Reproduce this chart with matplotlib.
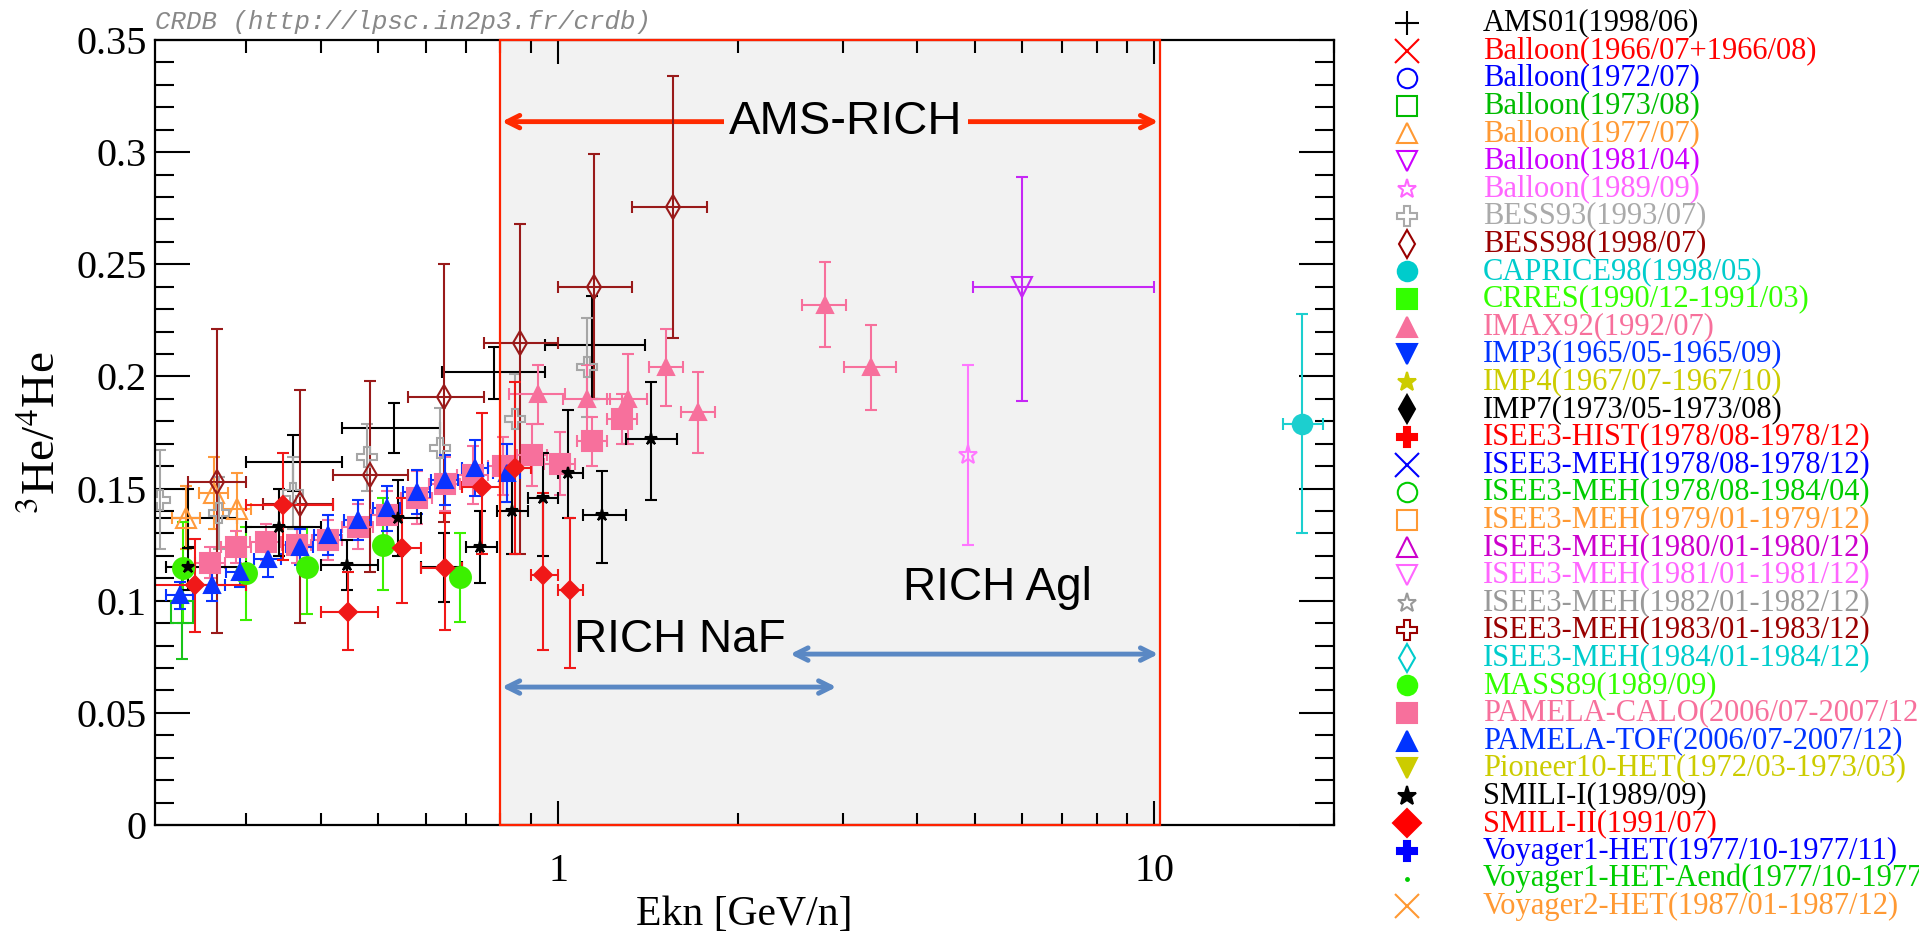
import numpy as np
import matplotlib
matplotlib.use("Agg")
import matplotlib.pyplot as plt
from matplotlib.patches import Rectangle
from matplotlib.ticker import MultipleLocator, LogLocator, FuncFormatter, NullFormatter

plt.rcParams['font.family'] = ['Liberation Serif', 'DejaVu Serif']
plt.rcParams['mathtext.fontset'] = 'stix'

# ---- data: Ekn [GeV/n] vs 3He/4He ----
# AMS01 (no marker, big bins)
ams_e = [0.24, 0.36, 0.53, 0.78, 1.14]
ams_r = [0.137, 0.162, 0.177, 0.202, 0.214]
ams_lo = [0.124, 0.149, 0.166, 0.190, 0.190]
ams_hi = [0.150, 0.174, 0.188, 0.213, 0.236]
ams_elo = [0.21, 0.30, 0.435, 0.64, 0.95]
ams_ehi = [0.29, 0.435, 0.634, 0.95, 1.40]

# Balloon(1973/08)
b73_e = [0.234]
b73_r = [0.095]
b73_lo = [0.074]
b73_hi = [0.116]

# Balloon(1977/07)
b77_e = [0.238, 0.265, 0.29]
b77_r = [0.137, 0.148, 0.141]
b77_err = [0.014, 0.016, 0.016]
b77_xerr = [0.013, 0.015, 0.016]

# Balloon(1981/04)
b81_e = [6.0]
b81_r = [0.240]
b81_lo = [0.189]
b81_hi = [0.289]
b81_elo = [4.96]
b81_ehi = [10.0]

# Balloon(1989/09)
b89_e = [4.87]
b89_r = [0.165]
b89_lo = [0.125]
b89_hi = [0.205]

# BESS93
bess93_e = [0.215, 0.27, 0.36, 0.478, 0.634, 0.847, 1.12]
bess93_r = [0.145, 0.139, 0.148, 0.164, 0.168, 0.181, 0.204]
bess93_err = [0.022, 0.016, 0.016, 0.015, 0.018, 0.020, 0.022]

# BESS98
bess98_e = [0.268, 0.369, 0.484, 0.643, 0.863, 1.15, 1.56]
bess98_r = [0.153, 0.143, 0.156, 0.191, 0.215, 0.240, 0.2755]
bess98_lo = [0.0856, 0.090, 0.113, 0.135, 0.121, 0.190, 0.217]
bess98_hi = [0.221, 0.194, 0.198, 0.250, 0.268, 0.299, 0.334]
bess98_elo = [0.24, 0.32, 0.42, 0.56, 0.75, 1.00, 1.33]
bess98_ehi = [0.30, 0.42, 0.56, 0.75, 1.00, 1.33, 1.78]

# CAPRICE98
cap_e = [17.7]
cap_r = [0.179]
cap_lo = [0.130]
cap_hi = [0.228]
cap_elo = [16.4]
cap_ehi = [19.2]

# IMAX92
imax_e = [0.926, 1.12, 1.31, 1.52, 1.72, 2.80, 3.35]
imax_r = [0.192, 0.190, 0.190, 0.204, 0.184, 0.232, 0.204]
imax_err = [0.013, 0.015, 0.020, 0.017, 0.018, 0.019, 0.019]
imax_xerr = [0.10, 0.10, 0.10, 0.10, 0.11, 0.24, 0.33]

# MASS89
mass_e = [0.235, 0.30, 0.38, 0.508, 0.685]
mass_r = [0.1146, 0.1124, 0.115, 0.125, 0.1106]
mass_lo = [0.090, 0.0914, 0.094, 0.105, 0.0905]
mass_hi = [0.135, 0.133, 0.133, 0.146, 0.130]

# PAMELA-CALO
calo_e = [0.261, 0.289, 0.324, 0.365, 0.411, 0.462, 0.516, 0.580, 0.646, 0.72, 0.81, 0.905, 1.008, 1.14, 1.28]
calo_r = [0.117, 0.124, 0.126, 0.125, 0.127, 0.133, 0.138, 0.146, 0.152, 0.156, 0.160, 0.165, 0.161, 0.171, 0.181]
calo_err = [0.007, 0.007, 0.008, 0.008, 0.009, 0.010, 0.011, 0.012, 0.012, 0.013, 0.013, 0.014, 0.014, 0.011, 0.011]
calo_xerr = [0.015, 0.017, 0.019, 0.021, 0.024, 0.027, 0.030, 0.034, 0.038, 0.042, 0.047, 0.053, 0.059, 0.066, 0.074]

# PAMELA-TOF
tof_e = [0.232, 0.263, 0.293, 0.326, 0.369, 0.411, 0.462, 0.516, 0.580, 0.646, 0.726, 0.821]
tof_r = [0.1025, 0.107, 0.113, 0.1186, 0.124, 0.1293, 0.136, 0.1413, 0.1485, 0.1538, 0.159, 0.157]
tof_err = [0.006, 0.007, 0.007, 0.008, 0.008, 0.009, 0.009, 0.010, 0.010, 0.011, 0.0125, 0.013]
tof_xerr = [0.012, 0.014, 0.015, 0.017, 0.019, 0.021, 0.024, 0.027, 0.030, 0.033, 0.037, 0.042]

# SMILI-I
smi1_e = [0.24, 0.34, 0.443, 0.54, 0.645, 0.74, 0.837, 0.944, 1.04, 1.185, 1.43]
smi1_r = [0.115, 0.133, 0.116, 0.137, 0.115, 0.124, 0.140, 0.146, 0.157, 0.138, 0.172]
smi1_lo = [0.105, 0.120, 0.105, 0.120, 0.0995, 0.108, 0.121, 0.120, 0.137, 0.117, 0.145]
smi1_hi = [0.1235, 0.150, 0.127, 0.154, 0.130, 0.140, 0.157, 0.166, 0.185, 0.158, 0.1975]
smi1_elo = [0.22, 0.30, 0.40, 0.50, 0.59, 0.70, 0.79, 0.89, 1.00, 1.10, 1.30]
smi1_ehi = [0.30, 0.40, 0.50, 0.59, 0.69, 0.79, 0.89, 1.00, 1.10, 1.30, 1.58]

# SMILI-II
smi2_e = [0.246, 0.346, 0.444, 0.547, 0.646, 0.746, 0.847, 0.944, 1.047]
smi2_r = [0.107, 0.1427, 0.095, 0.1235, 0.1146, 0.1507, 0.159, 0.1115, 0.1048]
smi2_lo = [0.086, 0.118, 0.078, 0.099, 0.087, 0.121, 0.121, 0.078, 0.070]
smi2_hi = [0.1275, 0.166, 0.113, 0.146, 0.139, 0.1837, 0.1975, 0.148, 0.137]
smi2_elo = [0.21, 0.30, 0.40, 0.50, 0.59, 0.69, 0.80, 0.90, 1.00]
smi2_ehi = [0.30, 0.42, 0.50, 0.59, 0.69, 0.80, 0.90, 1.00, 1.10]

# legend entries (ROOT order)
leg_labels = [
    "AMS01(1998/06)", "Balloon(1966/07+1966/08)", "Balloon(1972/07)", "Balloon(1973/08)",
    "Balloon(1977/07)", "Balloon(1981/04)", "Balloon(1989/09)", "BESS93(1993/07)",
    "BESS98(1998/07)", "CAPRICE98(1998/05)", "CRRES(1990/12-1991/03)", "IMAX92(1992/07)",
    "IMP3(1965/05-1965/09)", "IMP4(1967/07-1967/10)", "IMP7(1973/05-1973/08)",
    "ISEE3-HIST(1978/08-1978/12)", "ISEE3-MEH(1978/08-1978/12)", "ISEE3-MEH(1978/08-1984/04)",
    "ISEE3-MEH(1979/01-1979/12)", "ISEE3-MEH(1980/01-1980/12)", "ISEE3-MEH(1981/01-1981/12)",
    "ISEE3-MEH(1982/01-1982/12)", "ISEE3-MEH(1983/01-1983/12)", "ISEE3-MEH(1984/01-1984/12)",
    "MASS89(1989/09)", "PAMELA-CALO(2006/07-2007/12)", "PAMELA-TOF(2006/07-2007/12)",
    "Pioneer10-HET(1972/03-1973/03)", "SMILI-I(1989/09)", "SMILI-II(1991/07)",
    "Voyager1-HET(1977/10-1977/11)", "Voyager1-HET-Aend(1977/10-1977/11)",
    "Voyager2-HET(1987/01-1987/12)",
]
leg_colors = [
    "#000000", "#ff0000", "#0000ff", "#00bb00", "#ff9933", "#cc00ff", "#ff66ff", "#aaaaaa",
    "#990000", "#00cccc", "#33ff00", "#f7709c", "#0033ff", "#cccc00", "#000000", "#ff0000",
    "#0000ff", "#00cc00", "#ff9933", "#cc00cc", "#ff66ff", "#999999", "#990000", "#00cccc",
    "#33ff00", "#f7709c", "#0033ff", "#cccc00", "#000000", "#ff0000", "#0000ff", "#00cc00",
    "#ff9933",
]
leg_markers = ["+", "x", "o", "s", "^", "v", "*", "P", "d", "o", "s", "^", "v", "*", "d", "P",
               "x", "o", "s", "^", "v", "*", "P", "d", "o", "s", "^", "v", "*", "D", "P", ".", "x"]
leg_filled = [1, 1, 0, 0, 0, 0, 0, 0, 0, 1, 1, 1, 1, 1, 1, 1,
              1, 0, 0, 0, 0, 0, 0, 0, 1, 1, 1, 1, 1, 1, 1, 1, 1]

PINK = "#f7709c"

fig = plt.figure(figsize=(19.19, 9.39), dpi=100)
ax = fig.add_axes([155 / 1919, 1 - 825 / 939, 1179 / 1919, 785 / 939])


def draw(e, r, color, marker, ms, yerr=None, xerr=None, lo=None, hi=None,
         elo=None, ehi=None, filled=True, mew=1.5, z=3):
    e = np.asarray(e)
    r = np.asarray(r)
    if lo is not None:
        yerr = [r - np.asarray(lo), np.asarray(hi) - r]
    if elo is not None:
        xerr = [e - np.asarray(elo), np.asarray(ehi) - e]
    ax.errorbar(e, r, yerr=yerr, xerr=xerr, fmt=marker, ls='none', color=color,
                ms=ms, mfc=color if filled else 'none', mec=color, mew=mew,
                elinewidth=1.5, capsize=4, capthick=1.5, zorder=z)


# AMS-RICH region
ax.axvspan(0.8, 10.2, facecolor='#f2f2f2', edgecolor='none', zorder=0)
ax.add_patch(Rectangle((0.8, 0), 10.2 - 0.8, 0.35, fill=False, edgecolor='#ff2200',
                       lw=1.6, zorder=6, clip_on=False))

draw(ams_e, ams_r, 'black', 'none', 0, lo=ams_lo, hi=ams_hi, elo=ams_elo, ehi=ams_ehi)
draw(b73_e, b73_r, '#19c419', 's', 16, lo=b73_lo, hi=b73_hi, filled=False)
draw(b77_e, b77_r, '#ff9a3c', '^', 15, yerr=b77_err, xerr=b77_xerr, filled=False)
draw(b81_e, b81_r, '#c627f5', 'v', 15, lo=b81_lo, hi=b81_hi, elo=b81_elo, ehi=b81_ehi, filled=False)
draw(b89_e, b89_r, '#ff77ff', '*', 14, lo=b89_lo, hi=b89_hi, filled=False)
draw(bess93_e, bess93_r, '#a6a6a6', 'P', 14, yerr=bess93_err, filled=False)
draw(bess98_e, bess98_r, '#991a1a', 'd', 12, lo=bess98_lo, hi=bess98_hi,
     elo=bess98_elo, ehi=bess98_ehi, filled=False)
draw(cap_e, cap_r, '#1ccfcf', 'o', 14, lo=cap_lo, hi=cap_hi, elo=cap_elo, ehi=cap_ehi)
draw(imax_e, imax_r, PINK, '^', 12, yerr=imax_err, xerr=imax_xerr)
draw(mass_e, mass_r, '#3cf000', 'o', 15, lo=mass_lo, hi=mass_hi)
draw(calo_e, calo_r, PINK, 's', 14, yerr=calo_err, xerr=calo_xerr)
draw(tof_e, tof_r, '#0a32ff', '^', 12, yerr=tof_err, xerr=tof_xerr)
draw(smi1_e, smi1_r, 'black', '*', 9, lo=smi1_lo, hi=smi1_hi, elo=smi1_elo, ehi=smi1_ehi)
draw(smi2_e, smi2_r, '#f01818', 'D', 9, lo=smi2_lo, hi=smi2_hi, elo=smi2_elo, ehi=smi2_ehi)

# arrows and labels
ax.annotate('', xy=(10.15, 0.3136), xytext=(0.805, 0.3136),
            arrowprops=dict(arrowstyle='<->,head_length=0.9,head_width=0.45',
                            color='#ff2a00', lw=3.5, shrinkA=0, shrinkB=0), zorder=2)
ax.text(3.04, 0.3136, 'AMS-RICH', ha='center', va='center', fontsize=34,
        family='Liberation Sans', zorder=7,
        bbox=dict(boxstyle='square,pad=0.12', facecolor='#f2f2f2', edgecolor='none'))
ax.annotate('', xy=(2.93, 0.0615), xytext=(0.805, 0.0615),
            arrowprops=dict(arrowstyle='<->,head_length=0.9,head_width=0.45',
                            color='#5a88c4', lw=3.5, shrinkA=0, shrinkB=0), zorder=2)
ax.annotate('', xy=(10.15, 0.0762), xytext=(2.45, 0.0762),
            arrowprops=dict(arrowstyle='<->,head_length=0.9,head_width=0.45',
                            color='#5a88c4', lw=3.5, shrinkA=0, shrinkB=0), zorder=2)
ax.text(1.60, 0.0825, 'RICH NaF', ha='center', va='center', fontsize=33,
        family='Liberation Sans', zorder=7)
ax.text(5.45, 0.1057, 'RICH Agl', ha='center', va='center', fontsize=33,
        family='Liberation Sans', zorder=7)

# axes
ax.set_xscale('log')
ax.set_xlim(0.211, 20.0)
ax.set_ylim(0, 0.35)
ax.yaxis.set_major_locator(MultipleLocator(0.05))
ax.yaxis.set_minor_locator(MultipleLocator(0.01))
ax.yaxis.set_major_formatter(FuncFormatter(lambda v, p: '%g' % round(v, 3)))
ax.xaxis.set_major_locator(LogLocator(base=10))
ax.xaxis.set_minor_locator(LogLocator(base=10, subs=np.arange(2, 10)))
ax.xaxis.set_major_formatter(FuncFormatter(lambda v, p: '%g' % v))
ax.xaxis.set_minor_formatter(NullFormatter())
ax.tick_params(which='both', direction='in', top=True, right=True, width=1.5,
               labelsize=29, zorder=8)
ax.tick_params(axis='y', which='major', length=25, pad=6)
ax.tick_params(axis='y', which='minor', length=14)
ax.tick_params(axis='x', which='major', length=17, pad=20)
ax.tick_params(axis='x', which='minor', length=9)
for s in ax.spines.values():
    s.set_linewidth(1.6)
    s.set_zorder(5)

ax.set_xlabel('Ekn [GeV/n]', fontsize=30)
ax.xaxis.label.set_va('center')
ax.xaxis.set_label_coords(0.5, -0.1146)
ax.set_ylabel('$^{3}$He/$^{4}$He', fontsize=34)
ax.yaxis.label.set_va('center')
ax.yaxis.set_label_coords(-0.095, 0.5)

fig.text(155 / 1919, 1 - 22 / 939, 'CRDB (http://lpsc.in2p3.fr/crdb)', family='Liberation Mono',
         style='italic', color='#888888', fontsize=18.5, va='center')

# legend drawn by hand, one row per entry
leg = fig.add_axes([0, 0, 1, 1])
leg.set_xlim(0, 1919)
leg.set_ylim(939, 0)
leg.axis('off')
leg.patch.set_alpha(0)
for i, (lab, col, mk, fl) in enumerate(zip(leg_labels, leg_colors, leg_markers, leg_filled)):
    yrow = 23 + 27.6 * i
    size = 17 if mk in ('+', 'x') else (4 if mk == '.' else 14)
    leg.plot([1407], [yrow], marker=mk, ms=size, color=col, mec=col,
             mfc=col if fl else 'none', mew=1.5, ls='none', clip_on=False)
    leg.text(1483, yrow, lab, color=col, fontsize=22, va='center', ha='left')

fig.savefig('out.png', dpi=100)
